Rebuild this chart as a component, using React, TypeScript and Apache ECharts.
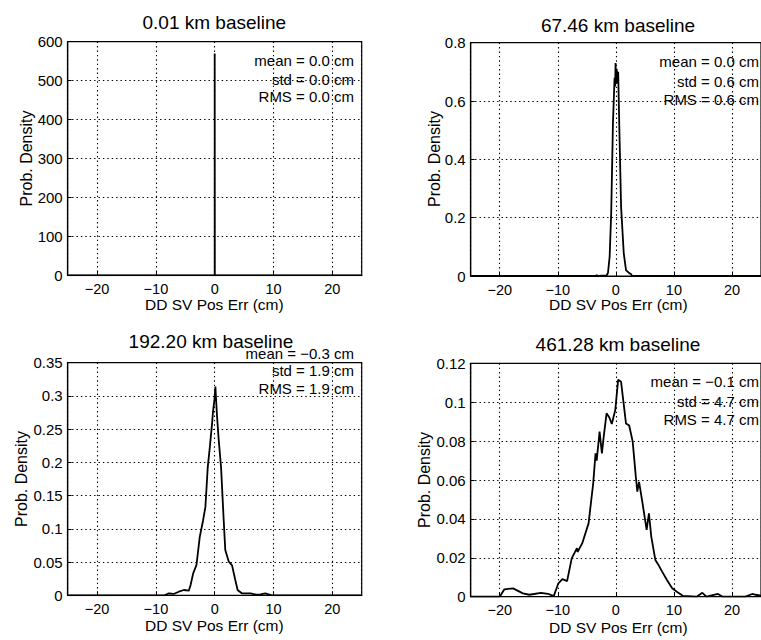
import React, { useEffect, useRef } from "react";
import * as echarts from "echarts";

// ---------- data ----------
const titles = ["0.01 km baseline", "67.46 km baseline", "192.20 km baseline", "461.28 km baseline"];

const stats1 = ["mean = 0.0 cm", "std = 0.0 cm", "RMS = 0.0 cm"];
const stats2 = ["mean = 0.0 cm", "std = 0.6 cm", "RMS = 0.6 cm"];
const stats3 = ["mean = \u22120.3 cm", "std = 1.9 cm", "RMS = 1.9 cm"];
const stats4 = ["mean = \u22120.1 cm", "std = 4.7 cm", "RMS = 4.7 cm"];

const yMaxes = [600, 0.8, 0.35, 0.12];
const yIntervals = [100, 0.2, 0.05, 0.02];

const p1X = [-25, 0, 0, 0.02, 25];
const p1Y = [0, 0, 570, 0, 0];

const p2X = [-25, -3.5, -3.3, -3.1, -1.6, -1.36, -1.07, -0.8, -0.5, -0.22, -0.12, -0.05, 0.05, 0.12, 0.2, 0.3, 0.4, 0.62, 0.9, 1.36, 1.75, 2.3, 2.6, 2.8, 25];
const p2Y = [0, 0, 0.003, 0, 0.002, 0.01, 0.066, 0.215, 0.524, 0.68, 0.65, 0.73, 0.66, 0.71, 0.7, 0.66, 0.7, 0.49, 0.238, 0.078, 0.02, 0.01, 0.007, 0, 0];

const p3X = [-25, -8.5, -7.8, -7.0, -6.1, -5.25, -4.4, -4.1, -3.66, -3.1, -2.54, -1.97, -1.58, -1.18, -0.85, -0.44, -0.3, -0.05, 0.12, 0.2, 0.4, 0.68, 1.08, 1.53, 1.8, 2.4, 2.95, 3.5, 3.9, 4.6, 6.1, 7.0, 7.8, 8.6, 9.7, 25];
const p3Y = [0, 0, 0.003, 0.002, 0.0054, 0.008, 0.007, 0.0155, 0.033, 0.0456, 0.088, 0.113, 0.133, 0.193, 0.221, 0.259, 0.275, 0.294, 0.314, 0.3, 0.269, 0.234, 0.193, 0.113, 0.068, 0.0506, 0.045, 0.023, 0.008, 0.003, 0.003, 0.001, 0.0015, 0.003, 0, 0];

const p4X = [-25, -20, -19.2, -17.7, -16.0, -14.9, -12.9, -11.7, -10.7, -9.9, -9.2, -8.4, -7.6, -6.7, -6.6, -5.8, -4.7, -3.9, -3.5, -3.3, -2.8, -2.4, -2.1, -1.6, -1.1, -0.7, -0.1, 0.4, 0.9, 1.75, 2.3, 2.9, 3.44, 3.7, 4.0, 4.6, 5.3, 5.7, 6.1, 6.8, 7.4, 7.97, 8.8, 9.7, 10.5, 11.6, 13.9, 14.9, 15.6, 17.6, 18.4, 22.3, 23.5, 24.1, 25];
const p4Y = [0, 0, 0.0038, 0.0043, 0.0017, 0.001, 0.002, 0.0015, 0.0003, 0.0069, 0.009, 0.008, 0.0197, 0.025, 0.023, 0.0274, 0.0377, 0.0583, 0.0737, 0.07, 0.0849, 0.0737, 0.082, 0.0943, 0.092, 0.0888, 0.096, 0.1116, 0.1105, 0.089, 0.088, 0.0797, 0.0617, 0.054, 0.059, 0.048, 0.0343, 0.0429, 0.0309, 0.0189, 0.016, 0.0129, 0.0086, 0.0043, 0.0026, 0.0004, 0, 0.002, 0, 0.0014, 0, 0, 0.0014, 0.001, 0.0005];

const xName = "DD SV Pos Err (cm)";
const yName = "Prob. Density";

// ---------- layout ----------
const FONT = '"Liberation Sans", Arial, Helvetica, sans-serif';
const grids = [
  { left: 67.7, top: 41.7, width: 294, height: 233.6 },
  { left: 470.7, top: 42.7, width: 295, height: 233.3 },
  { left: 67.7, top: 362.7, width: 294, height: 232.6 },
  { left: 470.7, top: 363.3, width: 295, height: 233.4 },
];
const titlePos = [[214.3, 22], [618, 25], [211, 341.7], [618, 344.7]];
const statRight = [354, 759, 354, 759];
const statY = [[60, 79, 96.3], [61, 81, 99.3], [353.3, 370.7, 388], [381.7, 401.7, 419]];
const yNamePos = [[26, 158.5], [434, 159], [21, 479], [424, 480]];
const xNamePos = [[214.3, 304.5], [618.3, 304.5], [214.3, 625], [618.3, 627]];

const fmtX = (v: number) => {
  if (Math.abs(v % 10) > 1e-9) return "";
  return v < 0 ? "\u2212" + Math.abs(v) : String(v);
};

export default function App() {
  const ref = useRef<HTMLDivElement>(null);
  useEffect(() => {
    if (!ref.current) return;
    const chart = echarts.init(ref.current, undefined, { renderer: "svg" });
    const xs = [p1X, p2X, p3X, p4X];
    const ys = [p1Y, p2Y, p3Y, p4Y];
    const stats = [stats1, stats2, stats3, stats4];
    const dotted = { color: "#000", width: 1.1, type: [1.4, 3] as any };

    const graphic: any[] = [];
    for (let i = 0; i < 4; i++) {
      graphic.push({
        type: "text", x: titlePos[i][0], y: titlePos[i][1], z: 10,
        style: { text: titles[i], font: `19px ${FONT}`, fill: "#000", align: "center", verticalAlign: "middle" },
      });
      for (let k = 0; k < 3; k++) {
        graphic.push({
          type: "text", x: statRight[i], y: statY[i][k], z: 10,
          style: { text: stats[i][k], font: `15px ${FONT}`, fill: "#000", align: "right", verticalAlign: "middle" },
        });
      }
      graphic.push({
        type: "text", x: yNamePos[i][0], y: yNamePos[i][1], rotation: Math.PI / 2, z: 10,
        style: { text: yName, font: `16px ${FONT}`, fill: "#000", align: "center", verticalAlign: "middle" },
      });
      graphic.push({
        type: "text", x: xNamePos[i][0], y: xNamePos[i][1], z: 10,
        style: { text: xName, font: `15.5px ${FONT}`, fill: "#000", align: "center", verticalAlign: "middle" },
      });
    }

    const option: any = {
      animation: false,
      backgroundColor: "#fff",
      grid: grids.map((g) => ({ ...g, show: true, borderColor: "#000", borderWidth: 1.2, containLabel: false })),
      xAxis: grids.map((_, i) => ({
        type: "value", gridIndex: i, min: -25, max: 25, splitNumber: 5,
        axisLine: { show: true, onZero: false, lineStyle: { color: "#000", width: 1.2 } },
        axisTick: { show: true, inside: true, length: 4, lineStyle: { color: "#000" } },
        axisLabel: { formatter: fmtX, color: "#000", fontSize: 14.5, fontFamily: FONT, margin: 6, showMinLabel: false, showMaxLabel: false },
        splitLine: { show: true, lineStyle: dotted },
      })),
      yAxis: grids.map((_, i) => ({
        type: "value", gridIndex: i, min: 0, max: yMaxes[i], interval: yIntervals[i],
        axisLine: { show: true, onZero: false, lineStyle: { color: "#000", width: 1.2 } },
        axisTick: { show: true, inside: true, length: 4, lineStyle: { color: "#000" } },
        axisLabel: { color: "#000", fontSize: 15, fontFamily: FONT, margin: 5 },
        splitLine: { show: true, lineStyle: dotted },
      })),
      series: xs.map((xArr, i) => ({
        type: "line", xAxisIndex: i, yAxisIndex: i,
        data: xArr.map((x, j) => [x, ys[i][j]]),
        showSymbol: false, symbol: "none", clip: true, z: 5,
        lineStyle: { color: "#000", width: 1.8 },
      })),
      graphic,
    };
    chart.setOption(option);
    return () => chart.dispose();
  }, []);
  return <div ref={ref} style={{ position: "fixed", left: 0, top: 0, width: 761, height: 640, background: "#fff" }} />;
}
